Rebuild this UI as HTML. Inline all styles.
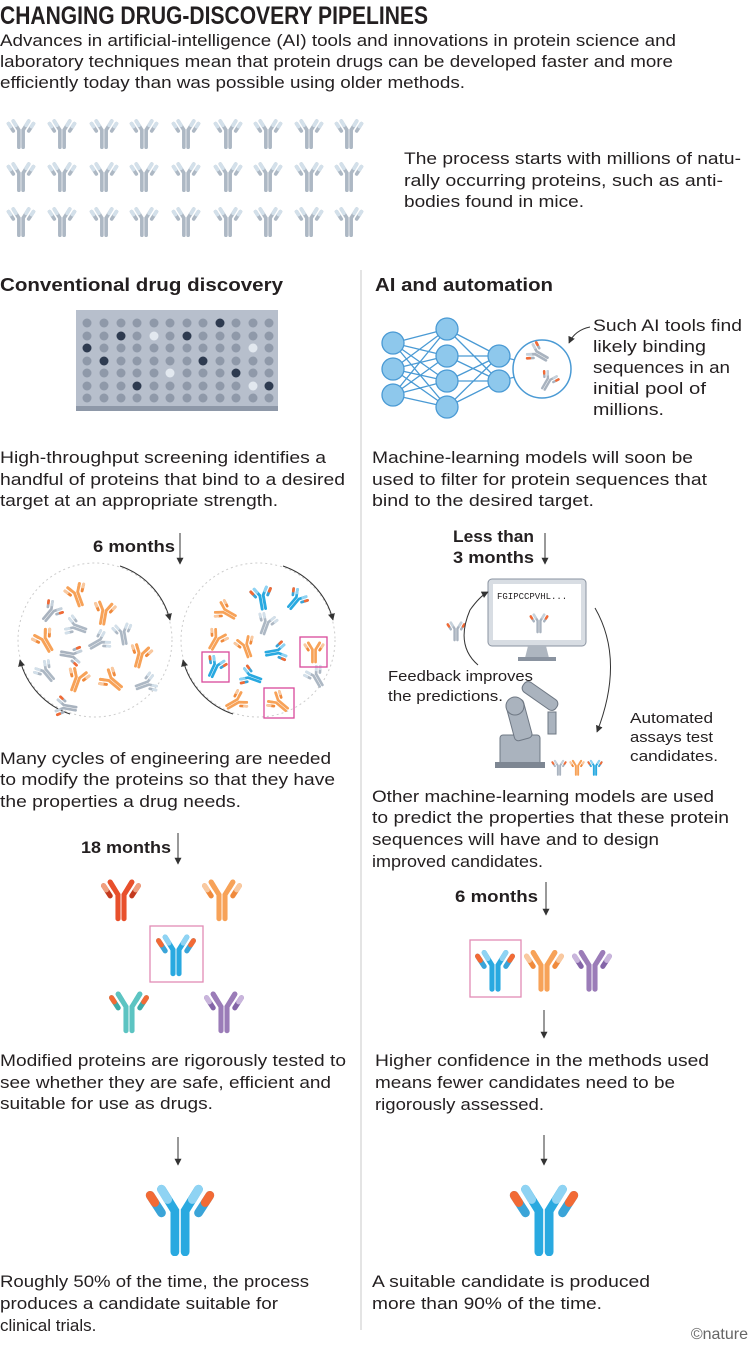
<!DOCTYPE html>
<html><head><meta charset="utf-8"><style>
html,body{margin:0;padding:0;background:#fff}
svg{display:block}
text{font-family:"Liberation Sans",sans-serif;fill:#231f20}
.t{font-size:17px}
.s{font-size:15px}
.b{font-weight:bold}
</style></head><body>
<svg width="751" height="1346" viewBox="0 0 751 1346" xmlns="http://www.w3.org/2000/svg">
<defs>
<symbol id="ab" viewBox="0 0 70 72">
<g fill="none" stroke-width="8.5" stroke-linecap="round">
<path d="M30 68V28L17 7" stroke="var(--h)"/><path d="M40 68V28L53 7" stroke="var(--h)"/>
<path d="M17 7L23 17" stroke="var(--ht)"/><path d="M53 7L47 17" stroke="var(--ht)"/>
<path d="M6 13L17 30" stroke="var(--l)"/><path d="M64 13L53 30" stroke="var(--l)"/>
<path d="M6 13L10.5 20" stroke="var(--lt)"/><path d="M64 13L59.5 20" stroke="var(--lt)"/>
</g></symbol>
<marker id="ar" viewBox="0 0 10 10" refX="9" refY="5" markerWidth="7" markerHeight="7" orient="auto" markerUnits="userSpaceOnUse"><path d="M0 0L10 5L0 10z" fill="#333"/></marker>
</defs>
<style>
.g{--h:#adb8c4;--ht:#d3e0ea;--l:#adb8c4;--lt:#d3e0ea}
.bl{--h:#29a9e0;--ht:#8fd3f3;--l:#3aa4d8;--lt:#f26a35}
.rd{--h:#e8502c;--ht:#e8502c;--l:#c43a1e;--lt:#f0a080}
.or{--h:#f7a258;--ht:#f7a258;--l:#f08a3c;--lt:#f9c9a0}
.te{--h:#5cc4c2;--ht:#5cc4c2;--l:#3eaaa8;--lt:#f26a35}
.pu{--h:#9b7cb8;--ht:#9b7cb8;--l:#8465a8;--lt:#c9b5dc}
.gr{--h:#a9b3bf;--ht:#c6d2dc;--l:#a9b3bf;--lt:#f26a35}
</style>

<text x="0" y="24" class="b" font-size="25" textLength="428" lengthAdjust="spacingAndGlyphs">CHANGING DRUG-DISCOVERY PIPELINES</text>
<text class="t" x="0" y="46" textLength="676" lengthAdjust="spacingAndGlyphs">Advances in artificial-intelligence (AI) tools and innovations in protein science and</text>
<text class="t" x="0" y="67" textLength="673" lengthAdjust="spacingAndGlyphs">laboratory techniques mean that protein drugs can be developed faster and more</text>
<text class="t" x="0" y="88" textLength="465" lengthAdjust="spacingAndGlyphs">efficiently today than was possible using older methods.</text>

<g class="g">
<use href="#ab" x="6" y="116" width="30" height="35"/><use href="#ab" x="47" y="116" width="30" height="35"/><use href="#ab" x="89" y="116" width="30" height="35"/><use href="#ab" x="129" y="116" width="30" height="35"/><use href="#ab" x="171" y="116" width="30" height="35"/><use href="#ab" x="213" y="116" width="30" height="35"/><use href="#ab" x="253" y="116" width="30" height="35"/><use href="#ab" x="294" y="116" width="30" height="35"/><use href="#ab" x="334" y="116" width="30" height="35"/>
<use href="#ab" x="6" y="159" width="30" height="35"/><use href="#ab" x="47" y="159" width="30" height="35"/><use href="#ab" x="89" y="159" width="30" height="35"/><use href="#ab" x="129" y="159" width="30" height="35"/><use href="#ab" x="171" y="159" width="30" height="35"/><use href="#ab" x="213" y="159" width="30" height="35"/><use href="#ab" x="253" y="159" width="30" height="35"/><use href="#ab" x="294" y="159" width="30" height="35"/><use href="#ab" x="334" y="159" width="30" height="35"/>
<use href="#ab" x="6" y="204" width="30" height="35"/><use href="#ab" x="47" y="204" width="30" height="35"/><use href="#ab" x="89" y="204" width="30" height="35"/><use href="#ab" x="129" y="204" width="30" height="35"/><use href="#ab" x="171" y="204" width="30" height="35"/><use href="#ab" x="213" y="204" width="30" height="35"/><use href="#ab" x="253" y="204" width="30" height="35"/><use href="#ab" x="294" y="204" width="30" height="35"/><use href="#ab" x="334" y="204" width="30" height="35"/>
</g>
<text class="t" x="404" y="164" textLength="337" lengthAdjust="spacingAndGlyphs">The process starts with millions of natu-</text>
<text class="t" x="404" y="186" textLength="319" lengthAdjust="spacingAndGlyphs">rally occurring proteins, such as anti-</text>
<text class="t" x="404" y="207" textLength="180" lengthAdjust="spacingAndGlyphs">bodies found in mice.</text>

<line x1="361" y1="270" x2="361" y2="1330" stroke="#c8c8c8"/>
<text x="0" y="291" class="b" font-size="18" textLength="283" lengthAdjust="spacingAndGlyphs">Conventional drug discovery</text>
<text x="375" y="291" class="b" font-size="18" textLength="178" lengthAdjust="spacingAndGlyphs">AI and automation</text>

<!-- plate -->
<rect x="76" y="310" width="202" height="100" fill="#b7bfcc"/>
<rect x="76" y="406" width="202" height="5" fill="#8e98a8"/>
<g fill="#8f99a9">
<circle cx="87" cy="323" r="4.5"/><circle cx="104" cy="323" r="4.5"/><circle cx="121" cy="323" r="4.5"/><circle cx="137" cy="323" r="4.5"/><circle cx="154" cy="323" r="4.5"/><circle cx="170" cy="323" r="4.5"/><circle cx="187" cy="323" r="4.5"/><circle cx="203" cy="323" r="4.5"/><circle cx="236" cy="323" r="4.5"/><circle cx="253" cy="323" r="4.5"/><circle cx="269" cy="323" r="4.5"/>
<circle cx="87" cy="336" r="4.5"/><circle cx="104" cy="336" r="4.5"/><circle cx="137" cy="336" r="4.5"/><circle cx="170" cy="336" r="4.5"/><circle cx="203" cy="336" r="4.5"/><circle cx="220" cy="336" r="4.5"/><circle cx="236" cy="336" r="4.5"/><circle cx="253" cy="336" r="4.5"/><circle cx="269" cy="336" r="4.5"/>
<circle cx="104" cy="348" r="4.5"/><circle cx="121" cy="348" r="4.5"/><circle cx="137" cy="348" r="4.5"/><circle cx="154" cy="348" r="4.5"/><circle cx="170" cy="348" r="4.5"/><circle cx="187" cy="348" r="4.5"/><circle cx="203" cy="348" r="4.5"/><circle cx="220" cy="348" r="4.5"/><circle cx="236" cy="348" r="4.5"/><circle cx="269" cy="348" r="4.5"/>
<circle cx="87" cy="361" r="4.5"/><circle cx="121" cy="361" r="4.5"/><circle cx="137" cy="361" r="4.5"/><circle cx="154" cy="361" r="4.5"/><circle cx="170" cy="361" r="4.5"/><circle cx="187" cy="361" r="4.5"/><circle cx="220" cy="361" r="4.5"/><circle cx="236" cy="361" r="4.5"/><circle cx="253" cy="361" r="4.5"/><circle cx="269" cy="361" r="4.5"/>
<circle cx="87" cy="373" r="4.5"/><circle cx="104" cy="373" r="4.5"/><circle cx="121" cy="373" r="4.5"/><circle cx="137" cy="373" r="4.5"/><circle cx="154" cy="373" r="4.5"/><circle cx="187" cy="373" r="4.5"/><circle cx="203" cy="373" r="4.5"/><circle cx="220" cy="373" r="4.5"/><circle cx="253" cy="373" r="4.5"/><circle cx="269" cy="373" r="4.5"/>
<circle cx="87" cy="386" r="4.5"/><circle cx="104" cy="386" r="4.5"/><circle cx="121" cy="386" r="4.5"/><circle cx="154" cy="386" r="4.5"/><circle cx="170" cy="386" r="4.5"/><circle cx="187" cy="386" r="4.5"/><circle cx="203" cy="386" r="4.5"/><circle cx="220" cy="386" r="4.5"/><circle cx="236" cy="386" r="4.5"/>
<circle cx="87" cy="398" r="4.5"/><circle cx="104" cy="398" r="4.5"/><circle cx="121" cy="398" r="4.5"/><circle cx="137" cy="398" r="4.5"/><circle cx="154" cy="398" r="4.5"/><circle cx="170" cy="398" r="4.5"/><circle cx="187" cy="398" r="4.5"/><circle cx="203" cy="398" r="4.5"/><circle cx="220" cy="398" r="4.5"/><circle cx="236" cy="398" r="4.5"/><circle cx="253" cy="398" r="4.5"/><circle cx="269" cy="398" r="4.5"/>
</g>
<g fill="#2e3b50"><circle cx="220" cy="323" r="4.5"/><circle cx="121" cy="336" r="4.5"/><circle cx="187" cy="336" r="4.5"/><circle cx="87" cy="348" r="4.5"/><circle cx="104" cy="361" r="4.5"/><circle cx="203" cy="361" r="4.5"/><circle cx="236" cy="373" r="4.5"/><circle cx="137" cy="386" r="4.5"/><circle cx="269" cy="386" r="4.5"/></g>
<g fill="#e2e8ef"><circle cx="154" cy="336" r="4.5"/><circle cx="253" cy="348" r="4.5"/><circle cx="170" cy="373" r="4.5"/><circle cx="253" cy="386" r="4.5"/></g>

<text class="t" x="0" y="463" textLength="326" lengthAdjust="spacingAndGlyphs">High-throughput screening identifies a</text>
<text class="t" x="0" y="485" textLength="345" lengthAdjust="spacingAndGlyphs">handful of proteins that bind to a desired</text>
<text class="t" x="0" y="506" textLength="278" lengthAdjust="spacingAndGlyphs">target at an appropriate strength.</text>

<!-- network -->
<g stroke="#4a9ad4" stroke-width="1.3">
<path d="M393 343L447 329M393 343L447 356M393 343L447 381M393 343L447 407M393 369L447 329M393 369L447 356M393 369L447 381M393 369L447 407M393 395L447 329M393 395L447 356M393 395L447 381M393 395L447 407M447 329L499 356M447 329L499 381M447 356L499 356M447 356L499 381M447 381L499 356M447 381L499 381M447 407L499 356M447 407L499 381M499 356L515 360M499 381L515 377"/>
</g>
<g fill="#8ec8ec" stroke="#4a9ad4" stroke-width="1.3">
<circle cx="393" cy="343" r="11"/><circle cx="393" cy="369" r="11"/><circle cx="393" cy="395" r="11"/>
<circle cx="447" cy="329" r="11"/><circle cx="447" cy="356" r="11"/><circle cx="447" cy="381" r="11"/><circle cx="447" cy="407" r="11"/>
<circle cx="499" cy="356" r="11"/><circle cx="499" cy="381" r="11"/>
</g>
<circle cx="542" cy="369" r="29" fill="#fff" stroke="#4a9ad4" stroke-width="1.5"/>
<use href="#ab" class="gr" x="527" y="342" width="22" height="24" transform="rotate(-60 538 354)"/>
<use href="#ab" class="gr" x="538" y="370" width="20" height="22" transform="rotate(30 548 381)"/>
<path d="M590 327Q575 330 569 343" fill="none" stroke="#333" stroke-width="1" marker-end="url(#ar)"/>
<text class="t" x="593" y="331" textLength="149" lengthAdjust="spacingAndGlyphs">Such AI tools find</text>
<text class="t" x="593" y="352" textLength="113" lengthAdjust="spacingAndGlyphs">likely binding</text>
<text class="t" x="593" y="373" textLength="137" lengthAdjust="spacingAndGlyphs">sequences in an</text>
<text class="t" x="593" y="394" textLength="113" lengthAdjust="spacingAndGlyphs">initial pool of</text>
<text class="t" x="593" y="415" textLength="71" lengthAdjust="spacingAndGlyphs">millions.</text>

<text class="t" x="372" y="463" textLength="321" lengthAdjust="spacingAndGlyphs">Machine-learning models will soon be</text>
<text class="t" x="372" y="485" textLength="335" lengthAdjust="spacingAndGlyphs">used to filter for protein sequences that</text>
<text class="t" x="372" y="506" textLength="222" lengthAdjust="spacingAndGlyphs">bind to the desired target.</text>

<!-- 6 months left -->
<text class="t b" x="93" y="552" textLength="82" lengthAdjust="spacingAndGlyphs">6 months</text>
<line x1="180" y1="533" x2="180" y2="564" stroke="#333" marker-end="url(#ar)"/>
<circle cx="95" cy="640" r="77" fill="none" stroke="#ccc" stroke-dasharray="2 3"/>
<circle cx="258" cy="640" r="77" fill="none" stroke="#ccc" stroke-dasharray="2 3"/>
<path d="M120 566A77 77 0 0 1 170 620" fill="none" stroke="#333" marker-end="url(#ar)"/>
<path d="M70 714A77 77 0 0 1 20 660" fill="none" stroke="#333" marker-end="url(#ar)"/>
<path d="M283 566A77 77 0 0 1 333 620" fill="none" stroke="#333" marker-end="url(#ar)"/>
<path d="M233 714A77 77 0 0 1 183 660" fill="none" stroke="#333" marker-end="url(#ar)"/>
<g>
<use href="#ab" class="or" x="65" y="582" width="24" height="26" transform="rotate(-20 77 595)"/>
<use href="#ab" class="gr" x="40" y="600" width="22" height="24" transform="rotate(40 51 612)"/>
<use href="#ab" class="or" x="92" y="600" width="24" height="26" transform="rotate(10 104 613)"/>
<use href="#ab" class="g" x="65" y="615" width="22" height="24" transform="rotate(-70 76 627)"/>
<use href="#ab" class="or" x="33" y="628" width="24" height="26" transform="rotate(-30 45 641)"/>
<use href="#ab" class="g" x="88" y="630" width="22" height="24" transform="rotate(60 99 642)"/>
<use href="#ab" class="g" x="112" y="622" width="22" height="24" transform="rotate(-10 123 634)"/>
<use href="#ab" class="or" x="128" y="643" width="24" height="26" transform="rotate(15 140 656)"/>
<use href="#ab" class="gr" x="60" y="643" width="22" height="24" transform="rotate(100 71 655)"/>
<use href="#ab" class="g" x="35" y="660" width="22" height="24" transform="rotate(-40 46 672)"/>
<use href="#ab" class="or" x="65" y="667" width="24" height="26" transform="rotate(20 77 680)"/>
<use href="#ab" class="or" x="100" y="668" width="24" height="26" transform="rotate(-50 112 681)"/>
<use href="#ab" class="g" x="135" y="672" width="22" height="24" transform="rotate(70 146 684)"/>
<use href="#ab" class="gr" x="55" y="695" width="22" height="24" transform="rotate(-80 66 707)"/>
</g>
<g>
<use href="#ab" class="bl" x="250" y="585" width="24" height="26" transform="rotate(-10 262 598)"/>
<use href="#ab" class="bl" x="285" y="588" width="22" height="24" transform="rotate(40 296 600)"/>
<use href="#ab" class="or" x="215" y="600" width="22" height="24" transform="rotate(-60 226 612)"/>
<use href="#ab" class="g" x="255" y="612" width="22" height="24" transform="rotate(20 266 624)"/>
<use href="#ab" class="or" x="205" y="628" width="22" height="24" transform="rotate(30 216 640)"/>
<use href="#ab" class="or" x="235" y="635" width="22" height="24" transform="rotate(-20 246 647)"/>
<use href="#ab" class="bl" x="265" y="640" width="22" height="24" transform="rotate(80 276 652)"/>
<use href="#ab" class="g" x="305" y="665" width="22" height="24" transform="rotate(-30 316 677)"/>
<use href="#ab" class="or" x="225" y="690" width="22" height="24" transform="rotate(60 236 702)"/>
<use href="#ab" class="bl" x="240" y="665" width="22" height="24" transform="rotate(-70 251 677)"/>
<rect x="300" y="637" width="27" height="30" fill="none" stroke="#d9499a" stroke-width="1.3"/>
<use href="#ab" class="or" x="303" y="640" width="22" height="24"/>
<rect x="202" y="652" width="27" height="30" fill="none" stroke="#d9499a" stroke-width="1.3"/>
<use href="#ab" class="bl" x="204" y="655" width="22" height="24" transform="rotate(25 215 667)"/>
<rect x="264" y="688" width="30" height="30" fill="none" stroke="#d9499a" stroke-width="1.3"/>
<use href="#ab" class="or" x="268" y="691" width="22" height="24" transform="rotate(-50 279 703)"/>
</g>

<text class="t" x="0" y="764" textLength="331" lengthAdjust="spacingAndGlyphs">Many cycles of engineering are needed</text>
<text class="t" x="0" y="785" textLength="335" lengthAdjust="spacingAndGlyphs">to modify the proteins so that they have</text>
<text class="t" x="0" y="807" textLength="241" lengthAdjust="spacingAndGlyphs">the properties a drug needs.</text>

<text class="t b" x="81" y="853" textLength="90" lengthAdjust="spacingAndGlyphs">18 months</text>
<line x1="178" y1="833" x2="178" y2="864" stroke="#333" marker-end="url(#ar)"/>
<use href="#ab" class="rd" x="100" y="877" width="42" height="45"/>
<use href="#ab" class="or" x="201" y="877" width="42" height="45"/>
<rect x="150" y="926" width="53" height="56" fill="none" stroke="#e28cb5" stroke-width="1.3"/>
<use href="#ab" class="bl" x="155" y="932" width="42" height="45"/>
<use href="#ab" class="te" x="108" y="989" width="42" height="45"/>
<use href="#ab" class="pu" x="203" y="989" width="42" height="45"/>

<text class="t" x="0" y="1066" textLength="346" lengthAdjust="spacingAndGlyphs">Modified proteins are rigorously tested to</text>
<text class="t" x="0" y="1088" textLength="331" lengthAdjust="spacingAndGlyphs">see whether they are safe, efficient and</text>
<text class="t" x="0" y="1109" textLength="213" lengthAdjust="spacingAndGlyphs">suitable for use as drugs.</text>
<line x1="178" y1="1137" x2="178" y2="1165" stroke="#333" marker-end="url(#ar)"/>
<use href="#ab" class="bl" x="144" y="1182" width="72" height="74"/>
<text class="t" x="0" y="1287" textLength="309" lengthAdjust="spacingAndGlyphs">Roughly 50% of the time, the process</text>
<text class="t" x="0" y="1309" textLength="278" lengthAdjust="spacingAndGlyphs">produces a candidate suitable for</text>
<text class="t" x="0" y="1331">clinical trials.</text>

<!-- right lower -->
<text class="t b" x="453" y="542" textLength="81" lengthAdjust="spacingAndGlyphs">Less than</text>
<text class="t b" x="453" y="563" textLength="81" lengthAdjust="spacingAndGlyphs">3 months</text>
<line x1="545" y1="533" x2="545" y2="564" stroke="#333" marker-end="url(#ar)"/>
<rect x="488" y="579" width="98" height="67" rx="4" fill="#d8dde3" stroke="#8a93a0"/>
<rect x="493" y="584" width="88" height="56" fill="#fff"/>
<path d="M528 646h18l3 12h-24z" fill="#aeb6c0"/><rect x="518" y="657" width="38" height="4" fill="#8a93a0"/>
<text x="497" y="599" font-size="9" style="font-family:'Liberation Mono',monospace">FGIPCCPVHL...</text>
<use href="#ab" class="gr" x="529" y="612" width="20" height="22"/>
<use href="#ab" class="gr" x="446" y="620" width="20" height="22"/>
<path d="M478 665Q455 645 470 610Q480 596 488 592" fill="none" stroke="#333" marker-end="url(#ar)"/>
<path d="M595 608Q625 660 597 732" fill="none" stroke="#333" marker-end="url(#ar)"/>
<text class="s" x="388" y="681" textLength="145" lengthAdjust="spacingAndGlyphs">Feedback improves</text>
<text class="s" x="388" y="701" textLength="115" lengthAdjust="spacingAndGlyphs">the predictions.</text>
<g fill="#aab3be" stroke="#6f7884" stroke-width="1">
<rect x="500" y="735" width="40" height="30" rx="3"/>
<rect x="510" y="700" width="18" height="40" rx="4" transform="rotate(-15 519 720)"/>
<rect x="520" y="690" width="40" height="12" rx="5" transform="rotate(35 540 696)"/>
<circle cx="515" cy="706" r="9"/>
<rect x="548" y="712" width="8" height="22"/>
</g>
<rect x="495" y="762" width="50" height="6" fill="#7d8692"/>
<text class="s" x="630" y="723" textLength="83" lengthAdjust="spacingAndGlyphs">Automated</text>
<text class="s" x="630" y="742" textLength="83" lengthAdjust="spacingAndGlyphs">assays test</text>
<text class="s" x="630" y="761" textLength="88" lengthAdjust="spacingAndGlyphs">candidates.</text>
<use href="#ab" class="gr" x="551" y="759" width="16" height="17"/>
<use href="#ab" class="or" x="569" y="759" width="16" height="17"/>
<use href="#ab" class="bl" x="587" y="759" width="16" height="17"/>

<text class="t" x="372" y="802" textLength="342" lengthAdjust="spacingAndGlyphs">Other machine-learning models are used</text>
<text class="t" x="372" y="823" textLength="357" lengthAdjust="spacingAndGlyphs">to predict the properties that these protein</text>
<text class="t" x="372" y="845" textLength="287" lengthAdjust="spacingAndGlyphs">sequences will have and to design</text>
<text class="t" x="372" y="867" textLength="171" lengthAdjust="spacingAndGlyphs">improved candidates.</text>

<text class="t b" x="455" y="902" textLength="83" lengthAdjust="spacingAndGlyphs">6 months</text>
<line x1="546" y1="882" x2="546" y2="915" stroke="#333" marker-end="url(#ar)"/>
<rect x="470" y="940" width="51" height="57" fill="none" stroke="#e28cb5" stroke-width="1.3"/>
<use href="#ab" class="bl" x="474" y="947" width="42" height="46"/>
<use href="#ab" class="or" x="523" y="947" width="42" height="46"/>
<use href="#ab" class="pu" x="571" y="947" width="42" height="46"/>
<line x1="544" y1="1010" x2="544" y2="1038" stroke="#333" marker-end="url(#ar)"/>

<text class="t" x="375" y="1066" textLength="334" lengthAdjust="spacingAndGlyphs">Higher confidence in the methods used</text>
<text class="t" x="375" y="1088" textLength="300" lengthAdjust="spacingAndGlyphs">means fewer candidates need to be</text>
<text class="t" x="375" y="1110" textLength="169" lengthAdjust="spacingAndGlyphs">rigorously assessed.</text>
<line x1="544" y1="1135" x2="544" y2="1165" stroke="#333" marker-end="url(#ar)"/>
<use href="#ab" class="bl" x="508" y="1182" width="72" height="74"/>
<text class="t" x="372" y="1287" textLength="278" lengthAdjust="spacingAndGlyphs">A suitable candidate is produced</text>
<text class="t" x="372" y="1309" textLength="230" lengthAdjust="spacingAndGlyphs">more than 90% of the time.</text>
<text x="748" y="1339" text-anchor="end" font-size="16" style="fill:#666">©nature</text>
</svg>
</body></html>
